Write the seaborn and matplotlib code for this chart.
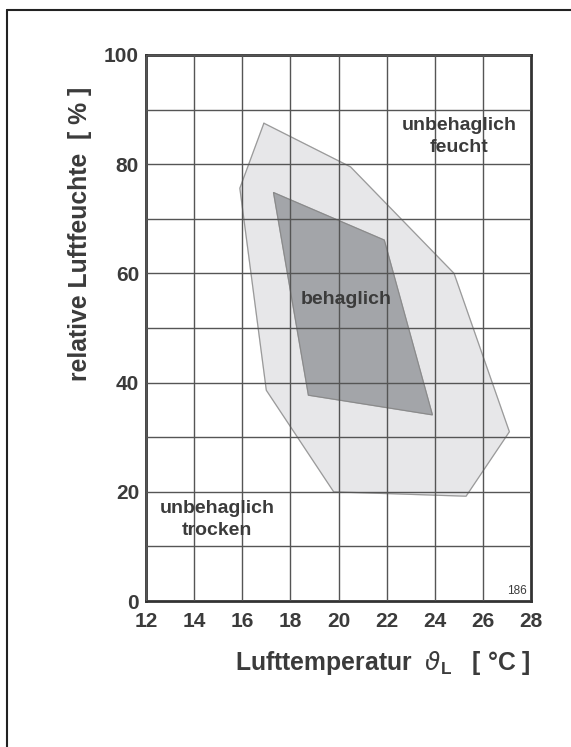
import matplotlib

matplotlib.use("Agg")
import matplotlib.pyplot as plt  # noqa: E402
import pandas as pd  # noqa: E402
import seaborn as sns  # noqa: E402
from matplotlib.lines import Line2D  # noqa: E402

# comfort zones (air temperature in degC, relative humidity in %)
outer_temp = [16.9, 20.5, 24.8, 27.1, 25.3, 19.8, 17.0, 15.9]
outer_hum = [87.5, 79.5, 60.0, 31.0, 19.2, 20.0, 38.6, 75.6]
inner_temp = [17.3, 21.9, 23.9, 18.75]
inner_hum = [74.8, 66.1, 34.1, 37.7]

x_ticks = [12, 14, 16, 18, 20, 22, 24, 26, 28]
y_ticks = [0, 20, 40, 60, 80, 100]
y_grid = [0, 10, 20, 30, 40, 50, 60, 70, 80, 90, 100]

sns.set_style("white")
plt.rcParams["font.family"] = ["Liberation Sans", "DejaVu Sans"]
plt.rcParams["mathtext.fontset"] = "dejavusans"
TXT = "#3b3b3b"

fig = plt.figure(figsize=(5.71, 7.47), dpi=100)
ax = fig.add_axes([0.2557, 0.1954, 0.6743, 0.731])


def closed(t, h):
    return pd.DataFrame({"temp": t + t[:1], "hum": h + h[:1], "idx": range(len(t) + 1)})


outer = closed(outer_temp, outer_hum)
inner = closed(inner_temp, inner_hum)

ax.fill(outer["temp"], outer["hum"], color="#e7e7e9", zorder=1)
sns.lineplot(data=outer, x="temp", y="hum", sort=False, estimator=None,
             color="#9a9a9a", lw=0.9, ax=ax, zorder=1.2)
ax.fill(inner["temp"], inner["hum"], color="#a3a5a9", zorder=1.4)
sns.lineplot(data=inner, x="temp", y="hum", sort=False, estimator=None,
             color="#8a8a8a", lw=0.8, ax=ax, zorder=1.5)

ax.set_xlim(12, 28)
ax.set_ylim(0, 100)
ax.set_xticks(x_ticks)
ax.set_yticks(y_grid)
ax.set_yticklabels([str(v) if v in y_ticks else "" for v in y_grid])
ax.set_axisbelow(False)
ax.grid(True, color="#555555", lw=1.0)
ax.tick_params(length=0, labelsize=15, labelcolor=TXT, pad=5)
ax.tick_params(axis="x", pad=8)
for lab in ax.get_xticklabels() + ax.get_yticklabels():
    lab.set_fontweight("bold")
for sp in ax.spines.values():
    sp.set_linewidth(2.0)
    sp.set_color("#333333")

ax.set_xlabel(r"Lufttemperatur  $\vartheta_\mathregular{L}$   [ °C ]", fontsize=17.8,
              fontweight="bold", color=TXT, loc="right", labelpad=13)
ax.set_ylabel("relative Luftfeuchte  [ % ]", fontsize=17.8, fontweight="bold", color=TXT)
ax.yaxis.set_label_coords(-0.14, 0.672)

kw = dict(ha="center", va="center", fontsize=14, fontweight="bold", color=TXT,
          linespacing=1.4, zorder=3)
ax.text(25.0, 85.1, "unbehaglich\nfeucht", **kw)
ax.text(20.3, 55.3, "behaglich", **kw)
ax.text(14.95, 14.9, "unbehaglich\ntrocken", **kw)
ax.text(27.4, 1.8, "186", ha="center", va="center", fontsize=8.5, color=TXT)

# page frame (top and left edge of the scanned page)
fig.add_artist(Line2D([7 / 571, 1], [1 - 10 / 747, 1 - 10 / 747],
                      transform=fig.transFigure, color="#222222", lw=1.5))
fig.add_artist(Line2D([7 / 571, 7 / 571], [0, 1 - 10 / 747],
                      transform=fig.transFigure, color="#222222", lw=1.5))

fig.savefig("out.png", dpi=100)
